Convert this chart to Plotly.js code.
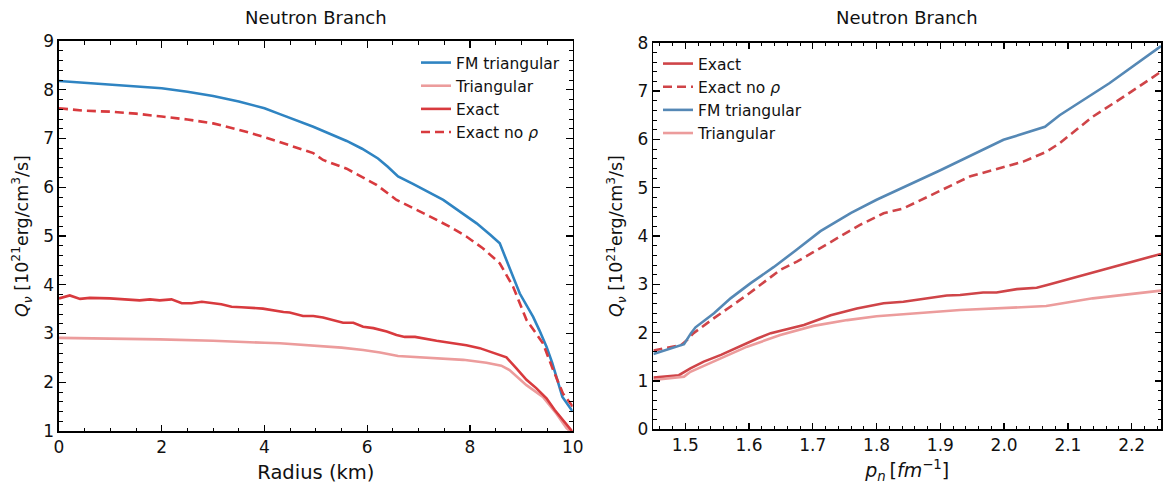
<!DOCTYPE html>
<html>
<head>
<meta charset="utf-8">
<script src="https://cdn.plot.ly/plotly-3.0.1.min.js"></script>
<style>html,body{margin:0;padding:0;background:#fff}#chart{width:1164px;height:484px}</style>
</head>
<body>
<div id="chart"></div>
<script>
// ---------- Left panel: Q_nu vs radius ----------
const leftFmR = [0, 1, 2, 2.5, 3, 3.5, 4, 4.3, 4.95, 5.6, 5.9, 6.21, 6.4, 6.6, 6.89, 7.48, 8.13, 8.4, 8.58, 8.97, 9.1, 9.23, 9.35, 9.49, 9.6, 9.68, 9.8, 9.9, 10];
const leftFmQ = [8.18, 8.11, 8.03, 7.96, 7.87, 7.76, 7.62, 7.50, 7.24, 6.95, 6.79, 6.59, 6.42, 6.22, 6.07, 5.74, 5.26, 5.02, 4.85, 3.82, 3.58, 3.34, 3.07, 2.73, 2.40, 2.11, 1.70, 1.55, 1.40];

const leftTriR = [0, 1, 1.96, 3, 3.39, 4, 4.3, 4.95, 5.5, 5.92, 6.25, 6.6, 7.22, 7.87, 8.32, 8.61, 8.77, 9.1, 9.42, 9.68, 9.88, 10];
const leftTriQ = [2.91, 2.90, 2.88, 2.85, 2.83, 2.81, 2.80, 2.75, 2.71, 2.66, 2.61, 2.54, 2.50, 2.46, 2.40, 2.34, 2.25, 1.94, 1.70, 1.36, 1.06, 0.95];

const leftExR = [0, 0.21, 0.41, 0.6, 0.99, 1.39, 1.57, 1.77, 1.96, 2.19, 2.39, 2.58, 2.78, 3.16, 3.36, 3.55, 3.77, 3.97, 4.37, 4.49, 4.75, 4.95, 5.14, 5.53, 5.73, 5.92, 6.12, 6.38, 6.57, 6.73, 6.93, 7.12, 7.35, 7.67, 7.93, 8.19, 8.45, 8.71, 8.9, 9.1, 9.29, 9.49, 9.65, 9.81, 9.94, 10];
const leftExQ = [3.72, 3.78, 3.71, 3.73, 3.72, 3.69, 3.68, 3.70, 3.68, 3.70, 3.62, 3.62, 3.65, 3.60, 3.55, 3.54, 3.52, 3.51, 3.44, 3.43, 3.36, 3.36, 3.33, 3.22, 3.22, 3.14, 3.11, 3.04, 2.97, 2.93, 2.93, 2.89, 2.85, 2.80, 2.76, 2.70, 2.61, 2.51, 2.29, 2.05, 1.88, 1.67, 1.43, 1.23, 1.06, 0.98];

const leftNoRhoR = [0, 0.5, 1, 1.5, 2, 2.5, 3, 3.5, 3.97, 4.3, 4.95, 5.14, 5.6, 6.18, 6.57, 7.09, 7.61, 7.93, 8.25, 8.58, 8.84, 9.1, 9.42, 9.62, 9.81, 10];
const leftNoRhoQ = [7.62, 7.57, 7.55, 7.51, 7.45, 7.39, 7.31, 7.18, 7.04, 6.93, 6.70, 6.56, 6.38, 6.05, 5.74, 5.47, 5.19, 4.99, 4.75, 4.44, 3.96, 3.28, 2.80, 2.25, 1.77, 1.50];

// ---------- Right panel: Q_nu vs p_n ----------
const rightExP = [1.45, 1.49, 1.508, 1.529, 1.556, 1.592, 1.613, 1.634, 1.686, 1.728, 1.769, 1.811, 1.842, 1.910, 1.931, 1.967, 1.988, 2.020, 2.051, 2.069, 2.139, 2.192, 2.246];
const rightExQ = [1.07, 1.12, 1.26, 1.40, 1.54, 1.76, 1.88, 1.99, 2.16, 2.36, 2.50, 2.61, 2.64, 2.77, 2.78, 2.83, 2.83, 2.90, 2.93, 2.99, 3.24, 3.43, 3.63];

const rightNoRhoP = [1.45, 1.493, 1.503, 1.513, 1.545, 1.597, 1.649, 1.675, 1.70, 1.774, 1.811, 1.842, 1.946, 1.993, 2.030, 2.066, 2.087, 2.139, 2.192, 2.246];
const rightNoRhoQ = [1.63, 1.74, 1.85, 1.99, 2.30, 2.78, 3.30, 3.47, 3.66, 4.23, 4.47, 4.57, 5.23, 5.40, 5.54, 5.74, 5.92, 6.47, 6.92, 7.40];

const rightFmP = [1.45, 1.498, 1.509, 1.516, 1.545, 1.571, 1.602, 1.639, 1.673, 1.712, 1.76, 1.8, 1.90, 1.999, 2.064, 2.087, 2.165, 2.246];
const rightFmQ = [1.56, 1.76, 1.99, 2.11, 2.40, 2.71, 3.02, 3.36, 3.70, 4.10, 4.48, 4.75, 5.36, 5.99, 6.26, 6.50, 7.16, 7.93];

const rightTriP = [1.45, 1.498, 1.508, 1.545, 1.597, 1.649, 1.701, 1.754, 1.80, 1.931, 1.993, 2.066, 2.139, 2.246];
const rightTriQ = [1.02, 1.09, 1.19, 1.40, 1.71, 1.95, 2.14, 2.26, 2.34, 2.47, 2.51, 2.55, 2.71, 2.87];

const titleText = 'Neutron Branch';
const yTitle = '<i>Q</i><sub><i>ν</i></sub> [10<sup>21</sup>erg/cm<sup>3</sup>/s]';

const cBlueL = '#2f84c2', cBlueR = '#5588b5', cRed = '#d83a3e', cRedR = '#cf4448', cPink = '#ec9c9c';
const LW = 2.6;
const dashed = '9px,5px';

const traces = [
  {x: leftFmR, y: leftFmQ, name: 'FM triangular', mode: 'lines', line: {color: cBlueL, width: LW}, xaxis: 'x', yaxis: 'y', legend: 'legend'},
  {x: leftTriR, y: leftTriQ, name: 'Triangular', mode: 'lines', line: {color: cPink, width: LW}, xaxis: 'x', yaxis: 'y', legend: 'legend'},
  {x: leftExR, y: leftExQ, name: 'Exact', mode: 'lines', line: {color: cRed, width: LW}, xaxis: 'x', yaxis: 'y', legend: 'legend'},
  {x: leftNoRhoR, y: leftNoRhoQ, name: 'Exact no <i>ρ</i>', mode: 'lines', line: {color: cRed, width: LW, dash: dashed}, xaxis: 'x', yaxis: 'y', legend: 'legend'},
  {x: rightExP, y: rightExQ, name: 'Exact', mode: 'lines', line: {color: cRedR, width: LW}, xaxis: 'x2', yaxis: 'y2', legend: 'legend2'},
  {x: rightNoRhoP, y: rightNoRhoQ, name: 'Exact no <i>ρ</i>', mode: 'lines', line: {color: cRedR, width: LW, dash: dashed}, xaxis: 'x2', yaxis: 'y2', legend: 'legend2'},
  {x: rightFmP, y: rightFmQ, name: 'FM triangular', mode: 'lines', line: {color: cBlueR, width: LW}, xaxis: 'x2', yaxis: 'y2', legend: 'legend2'},
  {x: rightTriP, y: rightTriQ, name: 'Triangular', mode: 'lines', line: {color: cPink, width: LW}, xaxis: 'x2', yaxis: 'y2', legend: 'legend2'}
];

const W = 1164, H = 484;
const FAM = 'DejaVu Sans, sans-serif';
const font = {family: FAM, size: 17, color: '#111'};
function minorTicks(dt, t0) {
  const m = {ticks: 'inside', ticklen: 3.5, tickwidth: 1, tickcolor: '#000', dtick: dt, showgrid: false};
  if (t0 !== undefined) m.tick0 = t0;
  return m;
}
function ax(extra) {
  return Object.assign({
    showline: true, mirror: 'ticks', linecolor: '#000', linewidth: 1.6,
    ticks: 'inside', ticklen: 6.5, tickwidth: 1.3, tickcolor: '#000',
    showgrid: false, zeroline: false, tickfont: {family: FAM, size: 17, color: '#111'}
  }, extra);
}

const layout = {
  width: W, height: H,
  margin: {l: 0, r: 0, t: 0, b: 0},
  paper_bgcolor: '#fff', plot_bgcolor: '#fff',
  font: font,
  showlegend: true,
  xaxis: ax({domain: [59 / W, 572.7 / W], range: [0, 10], dtick: 2, tick0: 0, minor: minorTicks(0.5),
    anchor: 'y', title: {text: 'Radius (km)', font: {family: FAM, size: 19.5, color: '#111'}, standoff: 10}}),
  yaxis: ax({domain: [1 - 431 / H, 1 - 41 / H], range: [1, 9], dtick: 1, minor: minorTicks(0.2),
    anchor: 'x', title: {text: yTitle, font: {family: FAM, size: 17.5, color: '#111'}, standoff: 10}}),
  xaxis2: ax({domain: [653.4 / W, 1161 / W], range: [1.45, 2.246], dtick: 0.1, tick0: 1.5, tickformat: '.1f', minor: minorTicks(0.02, 1.5),
    anchor: 'y2', title: {text: '<i>p<sub>n</sub></i>\u2009[<i>fm</i><sup>−1</sup>]', font: {family: FAM, size: 19, color: '#111'}, standoff: 10}}),
  yaxis2: ax({domain: [1 - 429.3 / H, 1 - 42.7 / H], range: [0, 8], dtick: 1, minor: minorTicks(0.2),
    anchor: 'x2', title: {text: yTitle, font: {family: FAM, size: 17.5, color: '#111'}, standoff: 10}}),
  legend: {x: 416 / W, y: 1 - 46 / H, xanchor: 'left', yanchor: 'top', bgcolor: 'rgba(0,0,0,0)', font: {family: FAM, size: 15.5, color: '#111'}, tracegroupgap: 0},
  legend2: {x: 658 / W, y: 1 - 47 / H, xanchor: 'left', yanchor: 'top', bgcolor: 'rgba(0,0,0,0)', font: {family: FAM, size: 15.5, color: '#111'}, tracegroupgap: 0},
  annotations: [
    {text: titleText, xref: 'paper', yref: 'paper', x: 316 / W, y: 1 - 18 / H, xanchor: 'center', yanchor: 'middle', showarrow: false, font: {family: FAM, size: 18, color: '#111'}},
    {text: titleText, xref: 'paper', yref: 'paper', x: 907 / W, y: 1 - 18 / H, xanchor: 'center', yanchor: 'middle', showarrow: false, font: {family: FAM, size: 18, color: '#111'}}
  ]
};

Plotly.newPlot('chart', traces, layout, {displayModeBar: false, staticPlot: true});
</script>
</body>
</html>
